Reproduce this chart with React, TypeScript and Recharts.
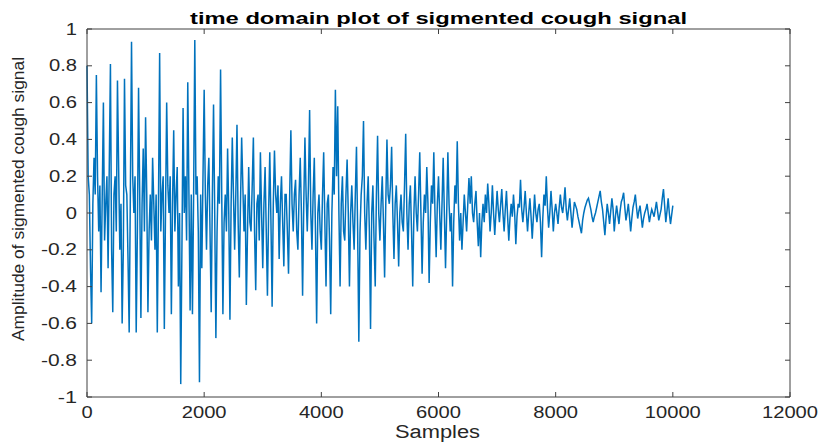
import { LineChart, Line, XAxis, YAxis } from 'recharts';

// sample spacing of the values below
const STEP = 20;

// amplitude, one value every STEP samples (1000 samples per row)
const SEG_0K = [
  0.8, 0.2, 0.1, -0.3, -0.6, 0.05, 0.3, 0.1, 0.75, 0.2,
  -0.1, 0.15, -0.43, 0.1, 0.6, -0.15, 0.05, 0.2, -0.3, 0.25,
  0.81, -0.2, -0.54, 0.1, 0.2, -0.1, 0.72, 0.25, -0.2, 0.05,
  -0.6, -0.2, 0.73, 0.15, 0.1, -0.25, -0.65, 0.1, 0.93, 0.2,
  0.0, 0.2, -0.65, -0.1, 0.68, 0.1, -0.57, 0.05, 0.35, -0.1,
];
const SEG_1K = [
  0.52, 0.1, -0.54, -0.1, 0.1, -0.15, 0.3, 0.05, -0.2, 0.1,
  -0.65, 0.05, 0.87, -0.1, 0.1, 0.2, -0.63, 0.0, 0.6, 0.15,
  0.0, 0.2, -0.55, 0.05, 0.45, -0.1, 0.1, 0.25, -0.4, 0.0,
  -0.93, -0.2, 0.57, 0.0, 0.2, -0.15, 0.71, 0.1, -0.53, 0.1,
  -0.55, 0.1, 0.94, 0.1, 0.2, -0.1, -0.92, 0.1, -0.3, 0.2,
];
const SEG_2K = [
  0.67, 0.1, -0.2, 0.15, 0.3, -0.1, -0.54, 0.1, 0.59, 0.0,
  -0.68, -0.1, 0.2, 0.05, 0.78, 0.1, -0.55, -0.05, 0.1, -0.1,
  0.35, 0.0, -0.58, 0.05, 0.41, 0.1, -0.2, 0.1, 0.48, -0.05,
  -0.35, 0.05, 0.41, 0.15, -0.1, 0.1, -0.5, -0.1, 0.25, -0.05,
  -0.1, 0.15, 0.41, -0.1, -0.42, 0.05, 0.1, -0.15, 0.33, 0.0,
];
const SEG_3K = [
  -0.3, 0.05, 0.25, -0.1, -0.45, 0.0, 0.33, -0.05, -0.51, 0.05,
  0.34, 0.1, 0.0, 0.15, -0.25, 0.05, 0.2, -0.05, -0.29, 0.1,
  0.1, -0.1, -0.33, 0.1, 0.45, 0.05, -0.1, 0.1, 0.18, -0.1,
  -0.2, 0.1, 0.3, 0.0, -0.45, 0.05, 0.41, 0.1, -0.1, 0.15,
  0.56, 0.0, -0.2, 0.1, 0.3, -0.1, -0.6, 0.0, 0.1, -0.1,
];
const SEG_4K = [
  -0.2, 0.1, 0.33, -0.05, -0.4, 0.05, 0.1, -0.15, -0.55, 0.0,
  0.25, 0.1, 0.67, 0.2, 0.58, 0.0, -0.4, 0.05, 0.2, -0.1,
  -0.15, 0.1, 0.29, 0.0, -0.4, 0.0, 0.15, -0.05, -0.2, 0.1,
  0.36, -0.1, -0.7, -0.1, 0.1, 0.2, 0.5, 0.0, -0.2, 0.05,
  0.2, -0.1, -0.63, 0.0, 0.15, -0.15, -0.4, 0.1, 0.42, 0.0,
];
const SEG_5K = [
  -0.15, 0.05, 0.2, -0.05, -0.35, 0.05, 0.4, 0.1, 0.05, 0.15,
  0.36, 0.0, -0.25, 0.05, 0.15, -0.05, -0.29, 0.0, 0.1, -0.05,
  -0.1, 0.15, 0.43, 0.0, -0.2, 0.05, 0.15, -0.1, -0.4, 0.0,
  0.2, 0.0, -0.1, 0.1, 0.33, 0.0, -0.33, -0.05, 0.1, 0.0,
  0.25, 0.05, -0.38, -0.05, 0.15, 0.05, 0.33, 0.0, -0.24, 0.05,
];
const SEG_6K = [
  0.2, 0.0, -0.2, 0.05, 0.3, 0.0, -0.3, 0.0, 0.33, 0.05,
  -0.1, 0.0, -0.4, -0.05, 0.15, 0.05, 0.39, 0.05, -0.15, 0.0,
  -0.2, -0.05, 0.1, 0.0, -0.1, 0.05, 0.19, 0.05, 0.2, 0.0,
  -0.05, 0.05, 0.12, -0.05, -0.18, 0.0, -0.24, -0.05, 0.05, -0.05,
  0.1, 0.0, 0.16, 0.05, -0.1, 0.0, 0.15, 0.0, -0.12, 0.0,
];
const SEG_7K = [
  0.12, 0.02, -0.05, 0.04, 0.13, 0.0, -0.1, 0.02, 0.12, -0.02,
  -0.15, -0.03, 0.05, -0.02, 0.1, 0.0, -0.17, -0.02, 0.05, 0.03,
  0.18, 0.02, -0.05, 0.03, 0.12, 0.0, -0.1, 0.0, 0.08, -0.02,
  -0.14, -0.02, 0.1, 0.0, -0.05, 0.02, 0.05, -0.05, -0.24, -0.03,
  0.1, 0.04, 0.2, 0.03, -0.08, 0.0, 0.12, 0.02, -0.1, 0.0,
];
const SEG_8K = [
  0.05, 0.0, -0.06, 0.03, 0.1, 0.03, 0.0, 0.06, 0.14, 0.02,
  -0.04, 0.02, 0.08, 0.0, -0.08, -0.01, 0.06, 0.04, 0.02, -0.02,
  -0.05, -0.08, -0.11, -0.04, 0.0, 0.03, 0.05, 0.07, 0.08, 0.05,
  0.02, -0.02, -0.05, -0.02, 0.0, 0.03, 0.06, 0.09, 0.12, 0.06,
  0.02, -0.05, -0.12, -0.03, 0.05, 0.0, -0.06, 0.01, 0.08, 0.02,
];
const SEG_9K = [
  -0.1, -0.02, 0.04, -0.01, -0.06, 0.01, 0.06, 0.08, 0.11, 0.03,
  -0.04, 0.0, 0.05, -0.02, -0.1, -0.03, 0.03, 0.06, 0.1, 0.03,
  -0.03, 0.01, 0.04, -0.02, -0.08, -0.03, 0.0, 0.02, 0.05, 0.0,
  -0.05, -0.01, 0.02, 0.0, -0.02, 0.02, 0.06, 0.01, -0.04, -0.01,
  0.02, 0.08, 0.13, 0.04, -0.05, 0.01, 0.08, 0.0, -0.06, -0.01,
  0.04,
];

const X_TICKS = [0, 2000, 4000, 6000, 8000, 10000, 12000];
const Y_TICKS = [-1, -0.8, -0.6, -0.4, -0.2, 0, 0.2, 0.4, 0.6, 0.8, 1];

const TITLE = 'time domain plot of sigmented cough signal';
const X_LABEL = 'Samples';
const Y_LABEL = 'Amplitude of sigmented cough signal';

const AMPLITUDE = [...SEG_0K, ...SEG_1K, ...SEG_2K, ...SEG_3K, ...SEG_4K, ...SEG_5K, ...SEG_6K, ...SEG_7K, ...SEG_8K, ...SEG_9K];
const data = AMPLITUDE.map((v, i) => ({ s: i * STEP, v }));

const W = 821;
const H = 443;
const PLOT_LEFT = 87;
const PLOT_RIGHT = 790;
const PLOT_TOP = 29;
const PLOT_BOTTOM = 397;
const AXIS = '#404040';
const INK = '#262626';
const FONT = "'Liberation Sans', Arial, Helvetica, sans-serif";

// rough Arial advance widths, used to stretch labels like the source image
function emWidth(s: string) {
  let w = 0;
  for (const c of s) w += c === '.' ? 0.278 : c === '-' ? 0.4 : 0.556;
  return w;
}

function XTick({ x, payload }: any) {
  const label = String(payload.value);
  return (
    <g>
      <line x1={x} x2={x} y1={PLOT_BOTTOM} y2={PLOT_BOTTOM - 5} stroke={AXIS} />
      <line x1={x} x2={x} y1={PLOT_TOP} y2={PLOT_TOP + 5} stroke={AXIS} />
      <text
        x={x}
        y={418}
        textAnchor="middle"
        fontSize={16}
        fontFamily={FONT}
        fill={INK}
        textLength={label.length * 11.2}
        lengthAdjust="spacingAndGlyphs"
      >
        {label}
      </text>
    </g>
  );
}

function YTick({ y, payload }: any) {
  const label = String(payload.value);
  return (
    <g>
      <line x1={PLOT_LEFT} x2={PLOT_LEFT + 5} y1={y} y2={y} stroke={AXIS} />
      <line x1={PLOT_RIGHT} x2={PLOT_RIGHT - 5} y1={y} y2={y} stroke={AXIS} />
      <text
        x={77}
        y={y + 5.5}
        textAnchor="end"
        fontSize={16}
        fontFamily={FONT}
        fill={INK}
        textLength={emWidth(label) * 16 * 1.26}
        lengthAdjust="spacingAndGlyphs"
      >
        {label}
      </text>
    </g>
  );
}

const titleLabel = () => (
  <text
    x={438.5}
    y={24}
    textAnchor="middle"
    fontSize={17}
    fontWeight="bold"
    fontFamily={FONT}
    fill="#000"
    textLength={497}
    lengthAdjust="spacingAndGlyphs"
  >
    {TITLE}
  </text>
);

const xLabel = () => (
  <text
    x={437.5}
    y={438}
    textAnchor="middle"
    fontSize={18}
    fontFamily={FONT}
    fill={INK}
    textLength={85}
    lengthAdjust="spacingAndGlyphs"
  >
    {X_LABEL}
  </text>
);

const yLabel = () => (
  <text
    transform="translate(24, 199) rotate(-90)"
    textAnchor="middle"
    fontSize={17}
    fontFamily={FONT}
    fill={INK}
    textLength={284}
    lengthAdjust="spacingAndGlyphs"
  >
    {Y_LABEL}
  </text>
);

export default function App() {
  return (
    <div style={{ position: 'absolute', left: 0, top: 0, width: W, height: H, background: '#fff' }}>
      <LineChart
        width={W}
        height={H}
        data={data}
        margin={{ top: PLOT_TOP - 1, right: W - PLOT_RIGHT - 1, bottom: 0, left: 0 }}
      >
        <XAxis
          xAxisId="b"
          dataKey="s"
          type="number"
          domain={[0, 12000]}
          ticks={X_TICKS}
          interval={0}
          height={H - PLOT_BOTTOM}
          stroke={AXIS}
          tickLine={false}
          tick={<XTick />}
          label={xLabel}
        />
        <XAxis
          xAxisId="t"
          orientation="top"
          dataKey="s"
          type="number"
          domain={[0, 12000]}
          height={1}
          stroke={AXIS}
          tick={false}
          tickLine={false}
          label={titleLabel}
        />
        <YAxis
          yAxisId="l"
          type="number"
          domain={[-1, 1]}
          ticks={Y_TICKS}
          interval={0}
          width={PLOT_LEFT}
          stroke={AXIS}
          tickLine={false}
          tick={<YTick />}
          label={yLabel}
        />
        <YAxis
          yAxisId="r"
          orientation="right"
          type="number"
          domain={[-1, 1]}
          width={1}
          stroke={AXIS}
          tick={false}
          tickLine={false}
        />
        <Line
          xAxisId="b"
          yAxisId="l"
          type="linear"
          dataKey="v"
          stroke="#0072BD"
          strokeWidth={1.5}
          dot={false}
          isAnimationActive={false}
        />
      </LineChart>
    </div>
  );
}
